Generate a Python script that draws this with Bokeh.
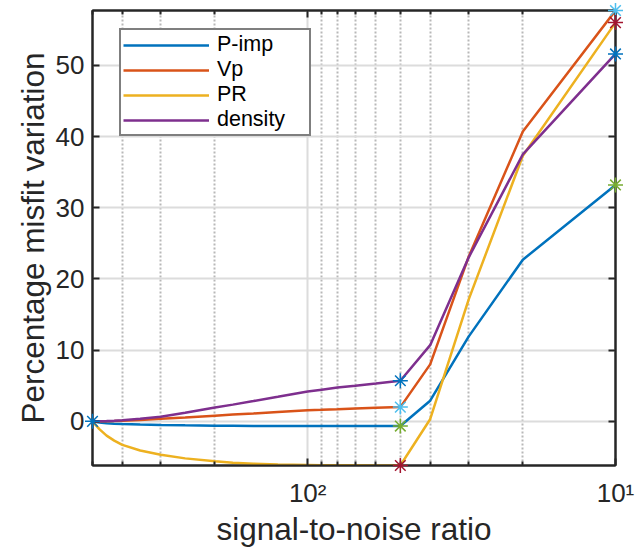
from bokeh.plotting import figure
from bokeh.models import (Range1d, LinearAxis, LogAxis, FixedTicker, Legend,
                          LegendItem)
from bokeh.embed import file_html
from bokeh.resources import INLINE

# ---- data ----
snr = [500, 475, 450, 425, 400, 350, 300, 250, 200, 175, 150, 125, 100,
       90, 80, 70, 60, 50, 40, 30, 20, 10]
p_imp = [0, -0.15, -0.25, -0.32, -0.37, -0.45, -0.5, -0.55, -0.6, -0.62,
         -0.64, -0.65, -0.66, -0.66, -0.66, -0.66, -0.66, -0.66, 2.9, 11.9,
         22.7, 33.2]
vp = [0, 0.01, 0.03, 0.06, 0.1, 0.2, 0.35, 0.55, 0.8, 0.95, 1.1, 1.3, 1.55,
      1.62, 1.7, 1.8, 1.9, 2.0, 8.0, 23.1, 40.7, 57.7]
pr = [0, -1.1, -2.0, -2.7, -3.3, -4.1, -4.7, -5.2, -5.6, -5.8, -5.95, -6.05,
      -6.12, -6.15, -6.17, -6.18, -6.19, -6.2, 0.3, 17.1, 37.3, 56.0]
density = [0, 0.02, 0.05, 0.1, 0.17, 0.35, 0.65, 1.2, 1.95, 2.35, 2.85, 3.45,
           4.2, 4.45, 4.75, 5.0, 5.3, 5.7, 10.7, 23.0, 37.5, 51.6]

series_names = ["P-imp", "Vp", "PR", "density"]
series_values = [p_imp, vp, pr, density]
line_colors = ["#0072BD", "#D95319", "#EDB120", "#7E2F8E"]
marker_colors = ["#77AC30", "#4DBEEE", "#A2142F", "#0072BD"]
marked_snr = [50, 10]

x_major = [10, 100]
x_minor = [20, 30, 40, 50, 60, 70, 80, 90, 200, 300, 400, 500]
x_labels = {10: "10\u00b9", 100: "10\u00b2"}
y_ticks = [0, 10, 20, 30, 40, 50]

FONT = "Liberation Sans"
INK = "#262626"

p = figure(width=635, height=549, x_axis_type="log",
           x_range=Range1d(500, 10), y_range=Range1d(-6.2, 57.7),
           output_backend="svg", toolbar_location=None,
           min_border_left=92, min_border_right=20, min_border_top=10,
           min_border_bottom=83)
p.background_fill_color = "white"
p.border_fill_color = "white"
p.outline_line_color = INK
p.outline_line_width = 2

renderers = []
for name, vals, col in zip(series_names, series_values, line_colors):
    r = p.line(snr, vals, line_color=col, line_width=2.5)
    renderers.append(r)

# star markers
mx, my, mc = [snr[0]], [p_imp[0]], ["#0072BD"]
for s in marked_snr:
    i = snr.index(s)
    for vals, mcol in zip(series_values, marker_colors):
        mx.append(s)
        my.append(vals[i])
        mc.append(mcol)
p.scatter(mx, my, marker="asterisk", size=15, line_color=mc, line_width=1.5,
          level="overlay")

# axes
xt = FixedTicker(ticks=x_major, minor_ticks=x_minor)
yt = FixedTicker(ticks=y_ticks)
p.xaxis.ticker = xt
p.yaxis.ticker = yt
p.xaxis.major_label_overrides = x_labels

for ax in [p.xaxis[0], p.yaxis[0]]:
    ax.axis_line_color = INK
    ax.axis_line_width = 2
    ax.major_tick_line_color = INK
    ax.minor_tick_line_color = INK
    ax.major_tick_line_width = 2
    ax.minor_tick_line_width = 2
    ax.major_tick_in = 7
    ax.major_tick_out = 0
    ax.minor_tick_in = 4
    ax.minor_tick_out = 0
    ax.major_label_text_font = FONT
    ax.major_label_text_font_size = "26px"
    ax.major_label_text_color = INK
    ax.axis_label_text_font = FONT
    ax.axis_label_text_font_size = "31.5px"
    ax.axis_label_text_font_style = "normal"
    ax.axis_label_text_color = INK

p.yaxis.minor_tick_line_color = None
p.xaxis.axis_label = "signal-to-noise ratio"
p.yaxis.axis_label = "Percentage misfit variation"
p.xaxis.major_label_standoff = 12
p.yaxis.major_label_standoff = 8
p.xaxis.axis_label_standoff = 0
p.yaxis.axis_label_standoff = 2

top = LogAxis(ticker=xt, major_label_text_font_size="0px",
              major_label_text_alpha=0)
right = LinearAxis(ticker=yt, major_label_text_font_size="0px",
                   major_label_text_alpha=0)
for ax in [top, right]:
    ax.axis_line_color = INK
    ax.axis_line_width = 2
    ax.major_tick_line_color = INK
    ax.minor_tick_line_color = INK
    ax.major_tick_line_width = 2
    ax.minor_tick_line_width = 2
    ax.major_tick_in = 7
    ax.major_tick_out = 0
    ax.minor_tick_in = 4
    ax.minor_tick_out = 0
    ax.major_label_standoff = 0
right.minor_tick_line_color = None
p.add_layout(top, "above")
p.add_layout(right, "right")

# grids
p.ygrid.grid_line_color = "#dcdcdc"
p.ygrid.grid_line_width = 2
p.xgrid.grid_line_color = "#dcdcdc"
p.xgrid.grid_line_width = 2
p.xgrid.minor_grid_line_color = "#b8b8b8"
p.xgrid.minor_grid_line_width = 2
p.xgrid.minor_grid_line_dash = "2 2"

legend = Legend(items=[LegendItem(label=n, renderers=[r])
                       for n, r in zip(series_names, renderers)],
                location=(27, 329))
legend.border_line_color = "black"
legend.border_line_width = 2
legend.background_fill_color = "white"
legend.background_fill_alpha = 1
legend.padding = 2
legend.spacing = 0
legend.glyph_width = 86
legend.glyph_height = 22
legend.label_height = 22
legend.label_width = 90
legend.label_standoff = 8
legend.label_text_font = FONT
legend.label_text_font_size = "21.5px"
legend.label_text_color = "black"
legend.margin = 0
p.add_layout(legend)

open("out.html", "w").write(file_html(p, INLINE))
